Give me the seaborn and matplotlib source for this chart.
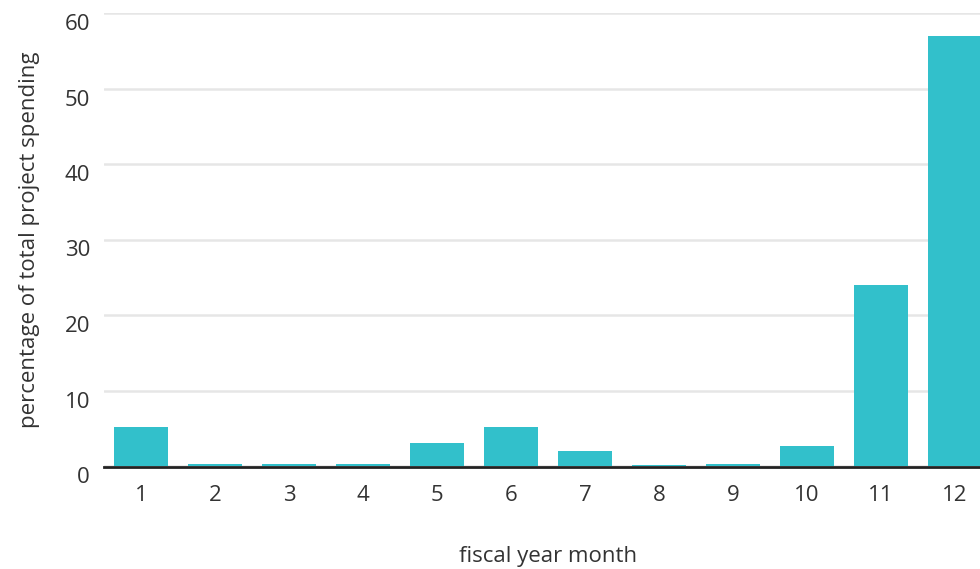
import matplotlib
matplotlib.use("Agg")
import matplotlib.pyplot as plt
import matplotlib.transforms as mtransforms
import seaborn as sns
import pandas as pd

# share of total project spending per fiscal month
months = ["1", "2", "3", "4", "5", "6", "7", "8", "9", "10", "11", "12"]
share = [5.1, 0.33, 0.22, 0.22, 3.0, 5.1, 2.05, 0.12, 0.33, 2.7, 24.0, 56.9]
y_ticks = [0, 10, 20, 30, 40, 50, 60]

df = pd.DataFrame({"month": months, "share": share})

sns.set_style("white")
plt.rcParams["font.family"] = ["Open Sans", "DejaVu Sans"]
text_col = "#333333"

fig = plt.figure(figsize=(9.8, 5.69), dpi=100)
ax = fig.add_axes([104 / 980, 103 / 569, 888 / 980, 453 / 569])

sns.barplot(data=df, x="month", y="share", color="#32c0cb", saturation=1,
            width=0.73, linewidth=0, ax=ax, zorder=3)

ax.set_xlim(-0.5, 11.5)
ax.set_ylim(0, 60)
ax.set_yticks(y_ticks)
ax.yaxis.grid(True, color="#e6e6e6", linewidth=1.8, zorder=0)
ax.set_axisbelow(True)
for side in ["top", "right", "left"]:
    ax.spines[side].set_visible(False)
# dark baseline just under zero so the tiny bars still show
ax.spines["bottom"].set_color("#222222")
ax.spines["bottom"].set_linewidth(2.0)
ax.spines["bottom"].set_position(("outward", 0.8))
ax.spines["bottom"].set_zorder(4)

ax.tick_params(axis="both", length=0, labelsize=16, labelcolor=text_col)
ax.tick_params(axis="x", pad=13)
ax.tick_params(axis="y", pad=10)

# y labels sit a little below their gridlines
shift = mtransforms.ScaledTranslation(0, -9 / 100, fig.dpi_scale_trans)
for lab in ax.get_yticklabels():
    lab.set_transform(lab.get_transform() + shift)

ax.set_xlabel("fiscal year month", fontsize=16, color=text_col, labelpad=29)
ax.set_ylabel("percentage of total project spending", fontsize=16,
              color=text_col, labelpad=18)

fig.savefig("out.png", dpi=100)
